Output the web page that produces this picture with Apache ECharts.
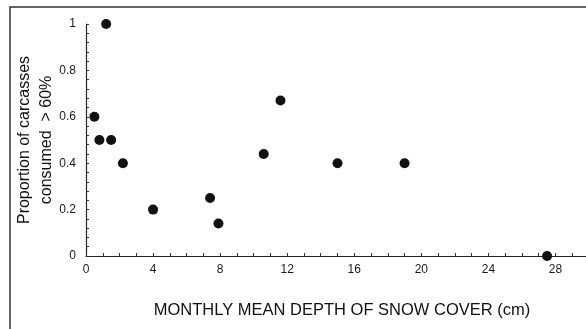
<!DOCTYPE html>
<html style="height: 100%">
<head>
    <meta charset="utf-8">
    <script type="text/javascript" src="https://cdn.jsdelivr.net/npm/echarts@6/dist/echarts.min.js"></script>
</head>
<body style="height: 100%; margin: 0; background: #fff">
<div id="container" style="height: 329px;width: 586px;position: absolute;top: 0;left: 0px;"></div>
<script type="text/javascript">
    // snow depth (cm) vs proportion consumed
    var snowDepth  = [0.5, 0.8, 1.2, 1.5, 2.2, 4.0, 7.4, 7.9, 10.6, 11.6, 15.0, 19.0, 27.5];
    var proportion = [0.6, 0.5, 1.0, 0.5, 0.4, 0.2, 0.25, 0.14, 0.44, 0.67, 0.4, 0.4, 0.0];
    var xTicks = [0, 4, 8, 12, 16, 20, 24, 28];
    var yTicks = [0, 0.2, 0.4, 0.6, 0.8, 1];

    var points = [];
    for (var i = 0; i < snowDepth.length; i++) {
        points.push([snowDepth[i], proportion[i]]);
    }

    var dom = document.getElementById("container");
    var myChart = echarts.init(dom, null, {renderer: 'canvas'});
    var font = 'Liberation Sans, Arial, sans-serif';

    var option = {
        animation: false,
        backgroundColor: '#fff',
        graphic: [{
            type: 'rect',
            shape: {x: 10, y: 7, width: 620, height: 360},
            style: {fill: 'none', stroke: '#333', lineWidth: 1.5},
            silent: true
        }, {
            type: 'text',
            x: 342,
            y: 310,
            style: {
                text: 'MONTHLY MEAN DEPTH OF SNOW COVER (cm)',
                font: '16.5px ' + font,
                fill: '#111',
                align: 'center',
                verticalAlign: 'middle'
            }
        }],
        grid: {
            left: 86,
            top: 24,
            width: 503,
            height: 232,
            outerBoundsMode: 'none',
            containLabel: false
        },
        xAxis: {
            type: 'value',
            min: 0,
            max: 30,
            interval: 4,
            axisLine: {show: true, lineStyle: {color: '#222', width: 1.2}},
            axisTick: {show: true, inside: true, length: 3, lineStyle: {color: '#333'}},
            minorTick: {show: true, splitNumber: 4, length: 3, lineStyle: {color: '#333'}},
            splitLine: {show: false},
            axisLabel: {
                color: '#1a1a1a', fontSize: 12, fontFamily: font, margin: 8,
                formatter: function (v) { return xTicks.indexOf(v) >= 0 ? v : ''; }
            }
        },
        yAxis: {
            type: 'value',
            min: 0,
            max: 1,
            interval: 0.2,
            name: 'Proportion of carcasses\nconsumed  > 60%',
            nameLocation: 'middle',
            nameGap: 28,
            nameMoveOverlap: false,
            nameTextStyle: {color: '#111', fontSize: 16, fontFamily: font, lineHeight: 22},
            axisLine: {show: true, lineStyle: {color: '#222', width: 1.2}},
            axisTick: {show: true, inside: true, length: 3, lineStyle: {color: '#333'}},
            minorTick: {show: true, splitNumber: 5, length: 3, lineStyle: {color: '#333'}},
            splitLine: {show: false},
            axisLabel: {
                color: '#1a1a1a', fontSize: 12, fontFamily: font, margin: 10,
                formatter: function (v) {
                    var r = Math.round(v * 10) / 10;
                    return yTicks.indexOf(r) >= 0 ? String(r) : '';
                }
            }
        },
        series: [{
            type: 'scatter',
            data: points,
            symbolSize: 10,
            clip: false,
            itemStyle: {color: '#111', opacity: 1}
        }]
    };
    myChart.setOption(option, true);
</script>
</body>
</html>
